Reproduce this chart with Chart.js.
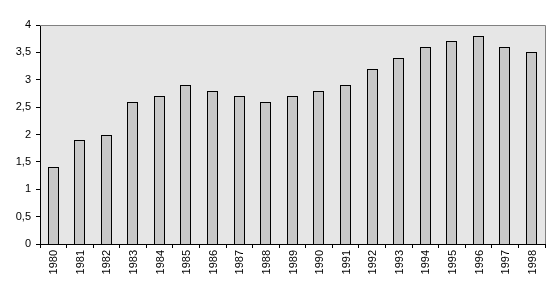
<!DOCTYPE html>
<html>
<head>
<meta charset="utf-8">
<script src="https://cdn.jsdelivr.net/npm/chart.js@4"></script>
<style>
    body { margin: 0; background: #fff; }
</style>
</head>
<body>
<canvas id="chart" width="560" height="292"></canvas>
<script>
// chart data
const years = ['1980', '1981', '1982', '1983', '1984', '1985', '1986', '1987', '1988', '1989',
               '1990', '1991', '1992', '1993', '1994', '1995', '1996', '1997', '1998'];
const values = [1.4, 1.9, 2.0, 2.6, 2.7, 2.9, 2.8, 2.7, 2.6, 2.7,
                2.8, 2.9, 3.2, 3.4, 3.6, 3.7, 3.8, 3.6, 3.5];
const yMin = 0;
const yMax = 4;
const yStep = 0.5;

const fontFamily = '"Liberation Sans", Arial, sans-serif';

// grey plot area with thin grey frame on top and right
const plotBackground = {
    id: 'plotBackground',
    beforeDraw(chart) {
        const { ctx, chartArea } = chart;
        ctx.save();
        ctx.fillStyle = '#e6e6e6';
        ctx.fillRect(chartArea.left, chartArea.top, chartArea.right - chartArea.left, chartArea.bottom - chartArea.top);
        ctx.restore();
    },
    afterDraw(chart) {
        const { ctx, chartArea } = chart;
        ctx.save();
        ctx.strokeStyle = '#808080';
        ctx.lineWidth = 1;
        ctx.beginPath();
        ctx.moveTo(chartArea.left, Math.round(chartArea.top) + 0.5);
        ctx.lineTo(Math.round(chartArea.right) + 0.5, Math.round(chartArea.top) + 0.5);
        ctx.lineTo(Math.round(chartArea.right) + 0.5, chartArea.bottom);
        ctx.stroke();
        ctx.restore();
    }
};

// snap bars to whole pixels so the black outlines stay sharp
const crispBars = {
    id: 'crispBars',
    beforeDatasetsDraw(chart) {
        chart.getDatasetMeta(0).data.forEach(bar => {
            const w = Math.round(bar.width);
            const left = Math.round(bar.x - bar.width / 2);
            bar.width = w;
            bar.x = left + w / 2;
            bar.y = Math.round(bar.y);
            bar.base = Math.round(bar.base) + 1;
        });
    }
};

// year labels read bottom-to-top
const verticalLabels = {
    id: 'verticalLabels',
    afterDraw(chart) {
        const { ctx } = chart;
        const xScale = chart.scales.x;
        ctx.save();
        ctx.fillStyle = '#000';
        ctx.font = '11px ' + fontFamily;
        ctx.textAlign = 'right';
        ctx.textBaseline = 'middle';
        years.forEach((label, i) => {
            const x = xScale.getPixelForTick(i);
            ctx.save();
            ctx.translate(x + 1, xScale.top + 6);
            ctx.rotate(-Math.PI / 2);
            ctx.fillText(label, 0, 0);
            ctx.restore();
        });
        ctx.restore();
    }
};

new Chart(document.getElementById('chart').getContext('2d'), {
    type: 'bar',
    data: {
        labels: years,
        datasets: [{
            data: values,
            backgroundColor: '#c8c8c8',
            borderColor: '#000',
            borderWidth: 1,
            borderSkipped: false,
            categoryPercentage: 1,
            barPercentage: 0.43
        }]
    },
    options: {
        responsive: false,
        animation: false,
        layout: {
            padding: { top: 25, right: 15, left: 0, bottom: 0 }
        },
        plugins: {
            legend: { display: false },
            tooltip: { enabled: false }
        },
        scales: {
            x: {
                afterFit(scale) { scale.height = 48; },
                grid: {
                    drawOnChartArea: false,
                    drawTicks: true,
                    tickLength: 4,
                    color: '#000'
                },
                border: { display: true, color: '#000' },
                ticks: { display: false }
            },
            y: {
                min: yMin,
                max: yMax,
                afterFit(scale) { scale.width = 40; },
                grid: {
                    drawOnChartArea: false,
                    drawTicks: true,
                    tickLength: 4,
                    color: '#000'
                },
                border: { display: true, color: '#000' },
                ticks: {
                    stepSize: yStep,
                    padding: 5,
                    color: '#000',
                    font: { size: 11, family: fontFamily },
                    callback: v => String(v).replace('.', ',')
                }
            }
        }
    },
    plugins: [plotBackground, crispBars, verticalLabels]
});
</script>
</body>
</html>
